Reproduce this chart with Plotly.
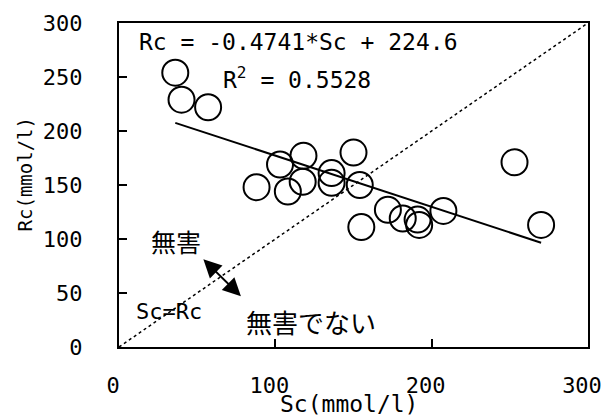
import plotly.graph_objects as go
import numpy as np

# Data
sc = [36, 40, 57, 103, 118, 88, 108, 117.5, 136, 136, 150, 154, 155, 172, 181.5, 191, 192, 207.5, 253, 270]
rc = [254, 229, 222, 169, 177, 148, 144, 153, 161, 152, 180, 150, 111, 127, 119, 118, 113, 126, 171, 113]

slope = -0.4741
intercept = 224.6
diag = [0, 300]

x_ticks = [0, 100, 200, 300]
y_ticks = [0, 50, 100, 150, 200, 250, 300]

MONO = "DejaVu Sans Mono, Noto Sans CJK JP"
JP = "Noto Sans CJK JP"

fig = go.Figure()

fig.add_trace(go.Scatter(x=diag, y=diag, mode="lines",
                         line=dict(color="black", width=1.5, dash="dot"),
                         hoverinfo="skip", showlegend=False))

xl = [min(sc), max(sc)]
fig.add_trace(go.Scatter(x=xl, y=[slope * v + intercept for v in xl], mode="lines",
                         line=dict(color="black", width=2),
                         showlegend=False))

fig.add_trace(go.Scatter(x=sc, y=rc, mode="markers",
                         marker=dict(symbol="circle-open", size=26, color="black",
                                     line=dict(width=2, color="black")),
                         showlegend=False))

ann = [
    dict(x=11.5, y=282.5, text="Rc = -0.4741*Sc + 224.6", xanchor="left", yanchor="middle",
         font=dict(family=MONO, size=23, color="black")),
    dict(x=65.3, y=249, text="R<sup>2</sup> = 0.5528", xanchor="left", yanchor="middle",
         font=dict(family=MONO, size=23, color="black")),
    dict(x=36.5, y=98, text="無害", xanchor="center", yanchor="middle",
         font=dict(family=JP, size=25, color="black")),
    dict(x=123, y=24, text="無害でない", xanchor="center", yanchor="middle",
         font=dict(family=JP, size=26, color="black")),
    dict(x=32, y=32.5, text="Sc=Rc", xanchor="center", yanchor="middle",
         font=dict(family=MONO, size=22, color="black")),
]
for a in ann:
    fig.add_annotation(xref="x", yref="y", showarrow=False, **a)

# axis titles
fig.add_annotation(xref="x", yref="paper", x=147, y=-0.176, text="Sc(mmol/l)",
                   showarrow=False, xanchor="center", yanchor="middle",
                   font=dict(family=MONO, size=23, color="black"))
fig.add_annotation(xref="paper", yref="y", x=-0.2, y=160, text="Rc(mmol/l)",
                   showarrow=False, xanchor="center", yanchor="middle", textangle=-90,
                   font=dict(family=MONO, size=19, color="black"))

fig.add_annotation(xref="x", yref="y", axref="x", ayref="y",
                   x=78, y=47, ax=53, ay=82.5, text="",
                   showarrow=True, arrowside="end+start", arrowhead=2,
                   arrowsize=1.8, arrowwidth=2, arrowcolor="black",
                   standoff=0, startstandoff=0)

fig.update_xaxes(range=[0, 300], tickvals=x_ticks, ticktext=[str(v) for v in x_ticks],
                 ticks="inside", ticklen=8, tickwidth=2, tickcolor="black",
                 showline=True, linecolor="black", linewidth=2, mirror=True,
                 showgrid=False, zeroline=False, automargin=False,
                 tickfont=dict(family=MONO, size=22, color="black"),
                 ticklabelstandoff=18, ticklabelshift=-6)
fig.update_yaxes(range=[0, 300], tickvals=y_ticks, ticktext=[str(v) for v in y_ticks],
                 ticks="inside", ticklen=8, tickwidth=2, tickcolor="black",
                 showline=True, linecolor="black", linewidth=2, mirror=True,
                 showgrid=False, zeroline=False, automargin=False,
                 tickfont=dict(family=MONO, size=22, color="black"),
                 ticklabelstandoff=30)

fig.update_layout(width=604, height=416, margin=dict(l=119, r=16, t=23, b=69),
                  paper_bgcolor="white", plot_bgcolor="white", showlegend=False)

fig.write_html("out.html")
